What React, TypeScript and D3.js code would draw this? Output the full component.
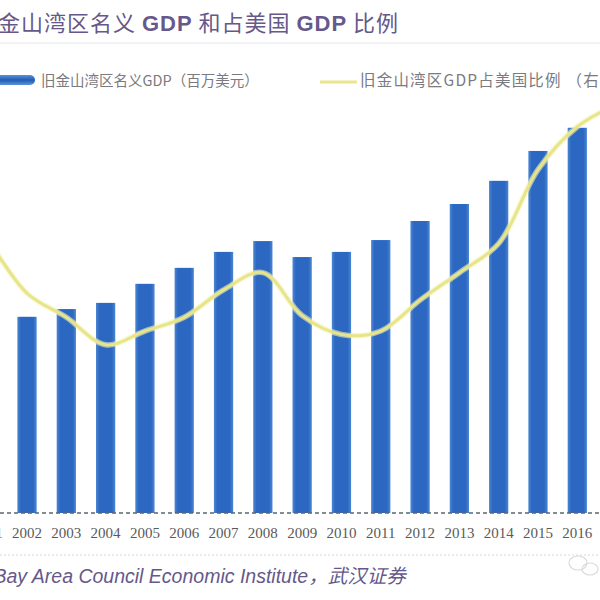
import React from "react";
import * as d3 from "d3";

const years = ["2001","2002","2003","2004","2005","2006","2007","2008","2009","2010","2011","2012","2013","2014","2015","2016","2017"];
// 旧金山湾区名义GDP（百万美元）
const gdp = [372000,381000,396000,408000,445000,476000,507000,528000,497000,507000,530000,567000,600000,645000,703000,748000,790000];
// 旧金山湾区GDP占美国比例（%）
const share = [3.80,3.64,3.57,3.49,3.53,3.57,3.65,3.70,3.575,3.52,3.53,3.62,3.70,3.785,4.00,4.125,4.19];

const titleParts = [
  { t: "旧金山湾区名义 ", bold: false },
  { t: "GDP", bold: true },
  { t: " 和占美国 ", bold: false },
  { t: "GDP", bold: true },
  { t: " 比例", bold: false },
];
const legendBar = "旧金山湾区名义GDP（百万美元）";
const legendLine = "旧金山湾区GDP占美国比例 （右轴）";
const sourceText = "资料来源：Bay Area Council Economic Institute，武汉证券";

const W = 600, H = 600;
const baseY = 513, topY = 101;

export default function App() {
  const x = d3.scalePoint<string>().domain(years).range([-12.3, 616.6]);
  const bw = x.step() * 0.49;
  const yL = d3.scaleLinear().domain([0, 800000]).range([baseY, topY]);
  const yR = d3.scaleLinear().domain([3.0, 4.2]).range([baseY, topY]);
  const line = d3
    .line<number>()
    .x((_, i) => x(years[i]) as number)
    .y((d) => yR(d))
    .curve(d3.curveCatmullRom.alpha(0.5));
  const cjk = '"Noto Sans CJK SC", sans-serif';
  return (
    <svg
      width={W}
      height={H}
      style={{ position: "fixed", left: 0, top: 0, background: "#fff", overflow: "hidden" }}
    >
      <defs>
        <linearGradient id="barG" x1="0" x2="1" y1="0" y2="0">
          <stop offset="0%" stopColor="#4c86d3" />
          <stop offset="18%" stopColor="#2c68c2" />
          <stop offset="82%" stopColor="#2c68c2" />
          <stop offset="100%" stopColor="#4c86d3" />
        </linearGradient>
        <linearGradient id="legG" x1="0" x2="0" y1="0" y2="1">
          <stop offset="0%" stopColor="#5b92d8" />
          <stop offset="50%" stopColor="#1f5cb6" />
          <stop offset="100%" stopColor="#5b92d8" />
        </linearGradient>
      </defs>
      <rect x={0} y={0} width={W} height={H} fill="#fff" />
      {/* title */}
      <text x={-25} y={31} fontSize={22} letterSpacing={1} fill="#66588a" fontFamily={cjk}>
        {titleParts.map((p, i) => (
          <tspan
            key={i}
            fontWeight={p.bold ? 700 : 400}
            fontFamily={p.bold ? '"Liberation Sans", Arial, sans-serif' : cjk}
            style={{ whiteSpace: "pre" }}
          >
            {p.t}
          </tspan>
        ))}
      </text>
      <line x1={0} x2={W} y1={43} y2={43} stroke="#e6e6ea" strokeWidth={1} />
      {/* legend */}
      <rect x={-6} y={75} width={41} height={10} rx={5} fill="url(#legG)" />
      <text x={41} y={86} fontSize={14.5} fill="#7a7a80" fontFamily={cjk}>{legendBar}</text>
      <line x1={320} x2={357} y1={82} y2={82} stroke="#ebe68c" strokeWidth={3} />
      <text x={360} y={86} fontSize={15.5} letterSpacing={1.2} fill="#7a7a80" fontFamily={cjk} style={{ whiteSpace: "pre" }}>{legendLine}</text>
      {/* bars */}
      {gdp.map((v, i) => (
        <rect
          key={years[i]}
          x={(x(years[i]) as number) - bw / 2}
          y={yL(v)}
          width={bw}
          height={baseY - yL(v)}
          fill="url(#barG)"
        />
      ))}
      {/* line */}
      <path d={line(share) || ""} fill="none" stroke="#f4f1b8" strokeWidth={5.5} strokeOpacity={0.6} />
      <path d={line(share) || ""} fill="none" stroke="#e8e488" strokeWidth={3} />
      {/* x axis */}
      <line x1={0} x2={W} y1={baseY} y2={baseY} stroke="#5e6570" strokeWidth={1.6} strokeDasharray="4 3" />
      {years.map((yr) => (
        <text
          key={yr}
          x={x(yr) as number}
          y={538}
          fontSize={15}
          textAnchor="middle"
          fill="#5a5a5a"
          fontFamily='"Liberation Serif", serif'
        >
          {yr}
        </text>
      ))}
      {/* source */}
      <line x1={0} x2={W} y1={555} y2={555} stroke="#d6d6e0" strokeWidth={1} strokeDasharray="2 2" />
      <text
        x={-104}
        y={583}
        fontSize={19.5}
        fontStyle="italic"
        fill="#66588a"
        fontFamily='"Liberation Sans", "Noto Sans CJK SC", sans-serif'
      >
        {sourceText}
      </text>
      <g opacity={0.35} stroke="#999" fill="none" strokeWidth={1.2}>
        <ellipse cx={578} cy={563} rx={9} ry={7} />
        <ellipse cx={590} cy={569} rx={8} ry={6} />
      </g>
    </svg>
  );
}
